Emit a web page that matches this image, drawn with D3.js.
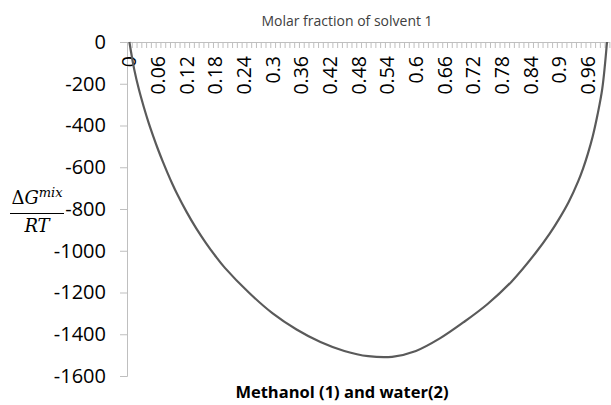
<!DOCTYPE html>
<html>
<head>
<meta charset="utf-8">
<script src="https://cdn.jsdelivr.net/npm/d3@7"></script>
<style>
  body { margin: 0; background: #fff; }
  svg { display: block; }
</style>
</head>
<body>
<div id="chart"></div>
<script>
// values (molar fraction of methanol -> dGmix/RT)
var molFraction = [0, 0.01, 0.02, 0.03, 0.04, 0.05, 0.06, 0.07, 0.08, 0.09, 0.10,
  0.12, 0.14, 0.16, 0.18, 0.20, 0.25, 0.30, 0.35, 0.40, 0.45, 0.50, 0.55, 0.60,
  0.65, 0.70, 0.75, 0.80, 0.85, 0.88, 0.90, 0.92, 0.94, 0.95, 0.96, 0.97, 0.98, 0.99, 1.00];
var gMix = [0, -130, -228, -310, -385, -452, -515, -573, -628, -680, -728,
  -815, -893, -962, -1025, -1082, -1200, -1300, -1377, -1437, -1480, -1505, -1508, -1480,
  -1420, -1342, -1255, -1148, -1012, -918, -846, -765, -665, -605, -535, -453, -350, -225, 0];

var xTickLabels = ["0", "0.06", "0.12", "0.18", "0.24", "0.3", "0.36", "0.42", "0.48",
  "0.54", "0.6", "0.66", "0.72", "0.78", "0.84", "0.9", "0.96"];
var yTicks = [0, -200, -400, -600, -800, -1000, -1200, -1400, -1600];

var svgWidth = 611, svgHeight = 405;
var plot = { left: 127, top: 42, right: 609.4, bottom: 376 };

var svg = d3.select("#chart").append("svg")
  .attr("width", svgWidth)
  .attr("height", svgHeight);

// category axis: 101 categories (0 .. 1 step 0.01), points sit in the middle of each
var x = d3.scaleLinear().domain([-0.005, 1.005]).range([plot.left, plot.right]);
var y = d3.scaleLinear().domain([-1600, 0]).range([plot.bottom, plot.top]);

var axisColor = "#bfbfbf";

// y axis
var yAxis = svg.append("g")
  .attr("transform", `translate(${plot.left},0)`)
  .call(d3.axisLeft(y).tickValues(yTicks).tickSize(7).tickPadding(14).tickFormat(d3.format("d")));
yAxis.select(".domain").attr("stroke", axisColor);
yAxis.selectAll(".tick line").attr("stroke", axisColor);
yAxis.selectAll("text")
  .attr("font-family", "'Open Sans', sans-serif")
  .attr("font-size", "20px")
  .attr("fill", "#000")
  .text(d => d === 0 ? "0" : "-" + Math.abs(d));

// x axis across the top (crosses at 0); small tick between each category
var tickBounds = d3.range(102).map(i => -0.005 + i * 0.01);
var xAxis = svg.append("g")
  .attr("transform", `translate(0,${y(0)})`)
  .call(d3.axisBottom(x).tickValues(tickBounds).tickSize(6).tickSizeOuter(0).tickFormat(""));
xAxis.select(".domain").attr("stroke", axisColor);
xAxis.selectAll(".tick line").attr("stroke", axisColor);

// rotated category labels every 6th category
svg.append("g").selectAll("text")
  .data(xTickLabels)
  .enter()
  .append("text")
  .attr("transform", d => `translate(${x(+d)},${y(0) + 14}) rotate(-90)`)
  .attr("text-anchor", "end")
  .attr("dy", "0.36em")
  .attr("font-family", "'Open Sans', sans-serif")
  .attr("font-size", "19.5px")
  .attr("fill", "#000")
  .text(d => d);

// the curve
var line = d3.line()
  .x((d, i) => x(molFraction[i]))
  .y(d => y(d))
  .curve(d3.curveCatmullRom.alpha(0.5));

svg.append("path")
  .datum(gMix)
  .attr("d", line)
  .attr("fill", "none")
  .attr("stroke", "#5a5a5a")
  .attr("stroke-width", 2.2);

// axis title on top
svg.append("text")
  .attr("x", 347)
  .attr("y", 26)
  .attr("text-anchor", "middle")
  .attr("font-family", "'Open Sans', sans-serif")
  .attr("font-size", "14px")
  .attr("fill", "#404040")
  .text("Molar fraction of solvent 1");

// chart title at the bottom
svg.append("text")
  .attr("x", 342)
  .attr("y", 398)
  .attr("text-anchor", "middle")
  .attr("font-family", "'Open Sans', sans-serif")
  .attr("font-weight", "bold")
  .attr("font-size", "16.5px")
  .attr("fill", "#000")
  .text("Methanol (1) and water(2)");

// y label as a fraction: dG^mix / RT
var frac = svg.append("g")
  .attr("font-family", "'DejaVu Serif', 'Liberation Serif', serif")
  .attr("fill", "#000");
var num = frac.append("text")
  .attr("x", 37)
  .attr("y", 204)
  .attr("text-anchor", "middle")
  .attr("font-size", "18px");
num.append("tspan").text("\u0394");
num.append("tspan").attr("font-style", "italic").text("G");
num.append("tspan").attr("font-style", "italic").attr("font-size", "13px").attr("dy", "-7").text("mix");
frac.append("line")
  .attr("x1", 10).attr("x2", 64)
  .attr("y1", 213.5).attr("y2", 213.5)
  .attr("stroke", "#000")
  .attr("stroke-width", 1);
frac.append("text")
  .attr("x", 37)
  .attr("y", 232)
  .attr("text-anchor", "middle")
  .attr("font-size", "18px")
  .attr("font-style", "italic")
  .text("RT");
</script>
</body>
</html>
